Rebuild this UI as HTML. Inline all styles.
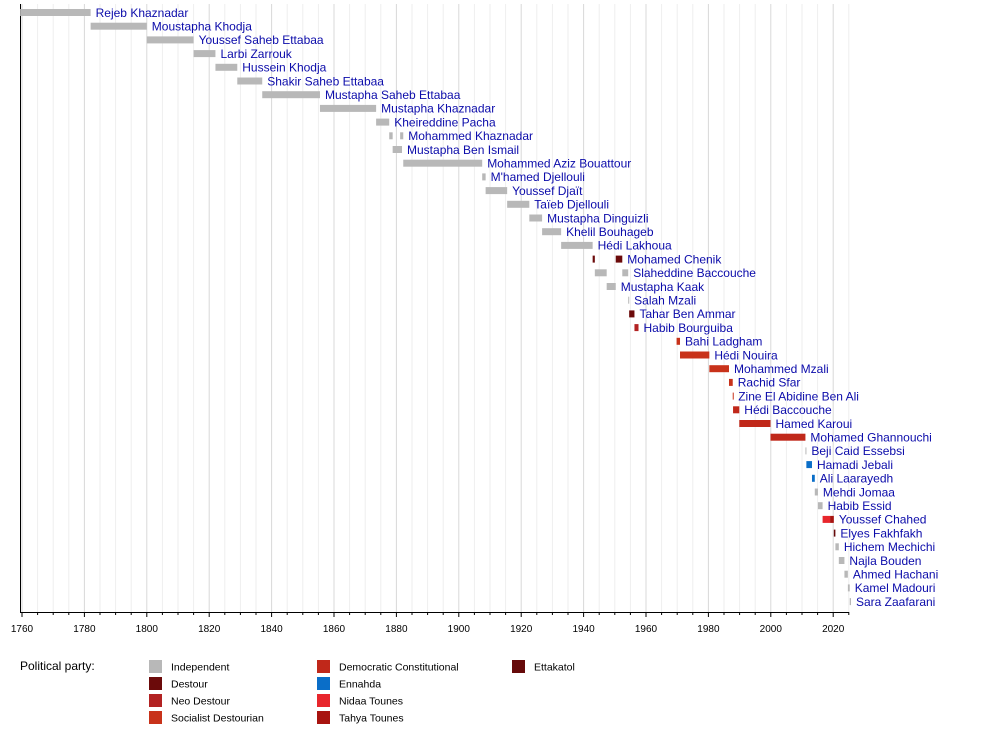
<!DOCTYPE html>
<html><head><meta charset="utf-8"><style>
html,body{margin:0;padding:0;background:#fff;}
svg{display:block;font-family:"Liberation Sans",sans-serif;}
</style></head><body>
<svg id="s" width="1000" height="732" xmlns="http://www.w3.org/2000/svg"></svg>
<script>
const s=document.getElementById('s');
const NS='http://www.w3.org/2000/svg';
function el(t,a,txt){const e=document.createElementNS(NS,t);for(const k in a)e.setAttribute(k,a[k]);if(txt!==undefined)e.textContent=txt;s.appendChild(e);return e;}
const X=y=>22+(y-1760)*3.12;
const C={I:'#b8b8b8',D:'#6b0a0a',N:'#b22222',S:'#c8321a',R:'#c0281a',E:'#0a6ec8',T:'#e8262c',Y:'#a81410',K:'#660a0a'};
for(let y=1760;y<=2025;y+=5){const x=X(y);el('line',{x1:x,y1:4,x2:x,y2:612,stroke:y%20==0?'#d8d8d8':'#eeeeee','stroke-width':1});}
el('line',{x1:20.5,y1:4,x2:20.5,y2:612,stroke:'#000','stroke-width':1});
el('line',{x1:20,y1:612.5,x2:X(2025),y2:612.5,stroke:'#000','stroke-width':1});
for(let y=1760;y<=2025;y+=5){const x=X(y);el('line',{x1:x,y1:612,x2:x,y2:y%20==0?617:615,stroke:'#000','stroke-width':1});}
for(let y=1760;y<=2020;y+=20){el('text',{x:X(y),y:632,'font-size':10,'text-anchor':'middle',fill:'#000'},y);}
const D=[
['Rejeb Khaznadar',[[1759.4,1782,'I']]],
['Moustapha Khodja',[[1782,1800,'I']]],
['Youssef Saheb Ettabaa',[[1800,1815,'I']]],
['Larbi Zarrouk',[[1815,1822,'I']]],
['Hussein Khodja',[[1822,1829,'I']]],
['Shakir Saheb Ettabaa',[[1829,1837,'I']]],
['Mustapha Saheb Ettabaa',[[1837,1855.5,'I']]],
['Mustapha Khaznadar',[[1855.5,1873.5,'I']]],
['Kheireddine Pacha',[[1873.5,1877.7,'I']]],
['Mohammed Khaznadar',[[1877.7,1878.8,'I'],[1881.2,1882.2,'I']]],
['Mustapha Ben Ismail',[[1878.8,1881.8,'I']]],
['Mohammed Aziz Bouattour',[[1882.2,1907.5,'I']]],
["M'hamed Djellouli",[[1907.5,1908.6,'I']]],
['Youssef Djaït',[[1908.6,1915.5,'I']]],
['Taïeb Djellouli',[[1915.5,1922.6,'I']]],
['Mustapha Dinguizli',[[1922.6,1926.7,'I']]],
['Khelil Bouhageb',[[1926.7,1932.8,'I']]],
['Hédi Lakhoua',[[1932.8,1942.9,'I']]],
['Mohamed Chenik',[[1942.9,1943.6,'D'],[1950.3,1952.4,'D']]],
['Slaheddine Baccouche',[[1943.6,1947.4,'I'],[1952.4,1954.3,'I']]],
['Mustapha Kaak',[[1947.4,1950.3,'I']]],
['Salah Mzali',[[1954.3,1954.6,'I']]],
['Tahar Ben Ammar',[[1954.6,1956.3,'D']]],
['Habib Bourguiba',[[1956.3,1957.6,'N']]],
['Bahi Ladgham',[[1969.8,1970.9,'S']]],
['Hédi Nouira',[[1970.9,1980.3,'S']]],
['Mohammed Mzali',[[1980.3,1986.6,'S']]],
['Rachid Sfar',[[1986.6,1987.8,'S']]],
['Zine El Abidine Ben Ali',[[1987.8,1987.95,'S']]],
['Hédi Baccouche',[[1987.9,1989.9,'R']]],
['Hamed Karoui',[[1989.9,1999.9,'R']]],
['Mohamed Ghannouchi',[[1999.9,2011.1,'R']]],
['Beji Caid Essebsi',[[2011.1,2011.4,'I']]],
['Hamadi Jebali',[[2011.4,2013.2,'E']]],
['Ali Laarayedh',[[2013.2,2014.1,'E']]],
['Mehdi Jomaa',[[2014.1,2015.1,'I']]],
['Habib Essid',[[2015.1,2016.6,'I']]],
['Youssef Chahed',[[2016.6,2019,'T'],[2019,2020.2,'Y']]],
['Elyes Fakhfakh',[[2020.2,2020.7,'K']]],
['Hichem Mechichi',[[2020.7,2021.8,'I']]],
['Najla Bouden',[[2021.8,2023.6,'I']]],
['Ahmed Hachani',[[2023.6,2024.7,'I']]],
['Kamel Madouri',[[2024.7,2025.3,'I']]],
['Sara Zaafarani',[[2025.3,2025.7,'I']]]
];
D.forEach((r,i)=>{const cy=12.5+i*13.7;let end=0;
r[1].forEach(b=>{const x1=X(b[0]),x2=X(b[1]);el('rect',{x:x1,y:cy-3.5,width:Math.max(1,x2-x1),height:7,fill:C[b[2]]});end=Math.max(end,x2);});
el('text',{x:end+5,y:cy+4.3,'font-size':12,fill:'#0b0baa'},r[0]);});
el('text',{x:20,y:670,'font-size':12,fill:'#000'},'Political party:');
const L=[[149,'I','Independent',0],[149,'D','Destour',1],[149,'N','Neo Destour',2],[149,'S','Socialist Destourian',3],
[317,'R','Democratic Constitutional',0],[317,'E','Ennahda',1],[317,'T','Nidaa Tounes',2],[317,'Y','Tahya Tounes',3],[512,'K','Ettakatol',0]];
L.forEach(l=>{const y=660+l[3]*17;el('rect',{x:l[0],y:y,width:13,height:13,fill:C[l[1]]});el('text',{x:l[0]+22,y:y+10.5,'font-size':10.5,fill:'#000'},l[2]);});
</script>
</body></html>
